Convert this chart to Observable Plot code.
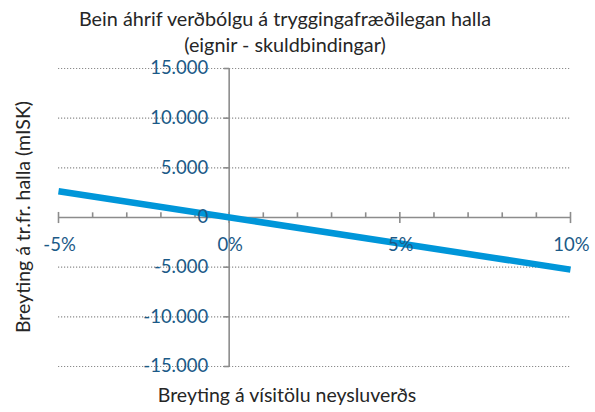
<!DOCTYPE html>
<html><head><meta charset="utf-8">
<script src="https://cdn.jsdelivr.net/npm/d3@7"></script>
<script src="https://cdn.jsdelivr.net/npm/@observablehq/plot@0.6"></script>
<style>
body{margin:0;background:#fff;font-family:Lato,"Open Sans",sans-serif;}
#wrap{position:relative;width:595px;height:412px;}
#title{position:absolute;left:0;width:570px;top:5px;text-align:center;font-size:19.8px;line-height:26px;color:#262626;}
#ytitle{position:absolute;left:22px;top:217px;transform:translate(-50%,-50%) rotate(-90deg);white-space:nowrap;font-size:19.5px;color:#262626;}
#xtitle{position:absolute;left:287px;top:383px;transform:translateX(-50%);white-space:nowrap;font-size:19.5px;color:#262626;}
svg{position:absolute;left:0;top:0;}
</style></head>
<body><div id="wrap">
<div id="title">Bein áhrif verðbólgu á tryggingafræðilegan halla<br>(eignir - skuldbindingar)</div>
<div id="ytitle">Breyting á tr.fr. halla (mISK)</div>
<div id="xtitle">Breyting á vísitölu neysluverðs</div>
</div>
<script>
const inflation = [-5, 10];            // % change in CPI
const deficitChange = [2650, -5250];   // mISK
const yTicks = [-15000, -10000, -5000, 0, 5000, 10000, 15000];
const yTickLabels = ["-15.000", "-10.000", "-5.000", "0", "5.000", "10.000", "15.000"];
const xMajor = [-5, 0, 5, 10];
const xMajorLabels = ["-5%", "0%", "5%", "10%"];
const xMinor = [-4, -3, -2, -1, 1, 2, 3, 4, 6, 7, 8, 9];

const series = inflation.map((x, i) => ({x, y: deficitChange[i]}));
const axisGray = "#8c8c8c";
const labelColor = "#1b5a87";

const chart = Plot.plot({
  width: 595, height: 412,
  marginLeft: 58, marginRight: 25, marginTop: 68, marginBottom: 46,
  x: {domain: [-5, 10], axis: null},
  y: {domain: [-15000, 15000], axis: null},
  style: {fontFamily: "Lato, 'Open Sans', sans-serif", background: "transparent"},
  marks: [
    Plot.ruleY(yTicks, {stroke: "#8c8c8c", strokeDasharray: "1.2,1.8", strokeWidth: 1.2}),
    Plot.ruleX([0], {y1: -15000, y2: 15000, stroke: axisGray, strokeWidth: 1.6}),
    Plot.link(yTicks, {x1: -0.16, x2: 0, y1: d => d, y2: d => d, stroke: axisGray, strokeWidth: 1.6}),
    Plot.ruleY([0], {x1: -5, x2: 10, stroke: axisGray, strokeWidth: 1.6}),
    Plot.link(xMinor, {x1: d => d, x2: d => d, y1: 0, y2: 520, stroke: axisGray, strokeWidth: 1.6}),
    Plot.link(xMajor, {x1: d => d, x2: d => d, y1: -560, y2: 560, stroke: axisGray, strokeWidth: 1.6}),
    Plot.line(series, {x: "x", y: "y", stroke: "#0096d9", strokeWidth: 6.5, strokeLinecap: "butt"}),
    Plot.text(yTicks, {x: 0, y: d => d, text: (d, i) => yTickLabels[i], textAnchor: "end", dx: -21, dy: 0, fill: labelColor, fontSize: 18.5}),
    Plot.text(xMajor, {x: d => d, y: 0, text: (d, i) => xMajorLabels[i], dy: 28, dx: 1, fill: labelColor, fontSize: 18.5})
  ]
});
document.getElementById("wrap").appendChild(chart);
</script>
</body></html>
